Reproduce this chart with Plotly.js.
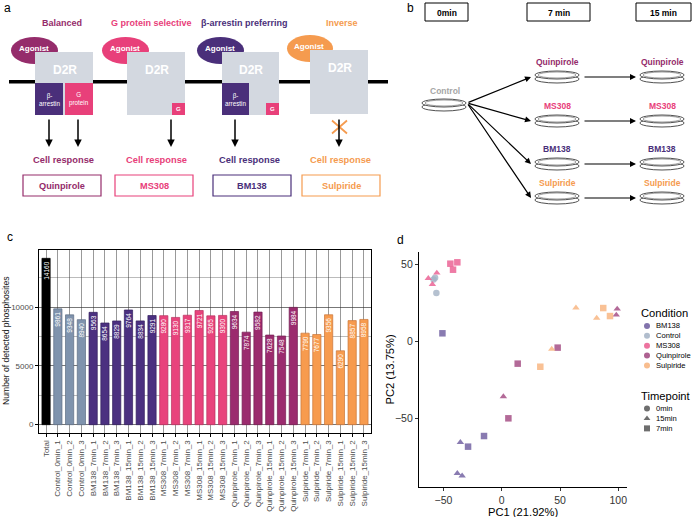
<!DOCTYPE html>
<html><head><meta charset="utf-8">
<script src="https://cdn.plot.ly/plotly-3.0.1.min.js"></script>
<style>html,body{margin:0;padding:0;background:#fff}#chart{width:698px;height:517px}</style>
</head><body><div id="chart"></div>
<script>
const FONT = 'Liberation Sans, Arial, sans-serif';

// ---------- Panel c data ----------
const sampleNames = ["Total",
  "Control_0min_1","Control_0min_2","Control_0min_3",
  "BM138_7min_1","BM138_7min_2","BM138_7min_3","BM138_15min_1","BM138_15min_2","BM138_15min_3",
  "MS308_7min_1","MS308_7min_2","MS308_7min_3","MS308_15min_1","MS308_15min_2","MS308_15min_3",
  "Quinpirole_7min_1","Quinpirole_7min_2","Quinpirole_7min_3","Quinpirole_15min_1","Quinpirole_15min_2","Quinpirole_15min_3",
  "Sulpiride_7min_1","Sulpiride_7min_2","Sulpiride_7min_3","Sulpiride_15min_1","Sulpiride_15min_2","Sulpiride_15min_3"];
const phosphositeCounts = [14160,
  9861, 9348, 8940,
  9563, 8654, 8829, 9764, 8834, 9291,
  9280, 9130, 9317, 9721, 9265, 9300,
  9634, 7874, 9582, 7628, 7548, 9984,
  7790, 7677, 9356, 6290, 8857, 8958];
const countTicks = [0, 5000, 10000];

// ---------- Panel d data ----------
const pcaCondition = ["BM138","BM138","BM138","BM138","BM138","BM138",
  "Control","Control","Control",
  "MS308","MS308","MS308","MS308","MS308","MS308",
  "Quinpirole","Quinpirole","Quinpirole","Quinpirole","Quinpirole","Quinpirole",
  "Sulpiride","Sulpiride","Sulpiride","Sulpiride","Sulpiride","Sulpiride"];
const pcaTimepoint = ["7min","7min","7min","15min","15min","15min",
  "0min","0min","0min",
  "15min","15min","15min","7min","7min","7min",
  "7min","7min","7min","15min","15min","15min",
  "7min","7min","7min","15min","15min","15min"];
const pc1 = [-50.9,-15.2,-28.9,-35.5,-38.1,-34.0,
  -57.2,-56.1,-58.5,
  -63.0,-59.5,-55.7,-44.1,-38.1,-41.8,
  13.7,5.7,48.0,1.4,99.1,98.3,
  33.1,87.1,92.9,42.9,63.7,81.5];
const pc2 = [5.0,-61.7,-68.6,-65.8,-85.9,-87.5,
  41.1,31.2,40.0,
  40.7,36.8,44.2,50.2,51.1,46.3,
  -14.7,-50.2,-4.3,-36.1,20.8,16.9,
  -16.7,21.4,16.2,-5.2,21.6,14.9];
const conditionLevels = ["BM138","Control","MS308","Quinpirole","Sulpiride"];
const timepointLevels = ["0min","15min","7min"];

// ---------- styles ----------
const barColors = {Total:'#000000', Control:'#7f93ad', BM138:'#4b3080', MS308:'#e8437c', Quinpirole:'#9b2b6e', Sulpiride:'#f79b4e'};
const barEdges  = {Total:'#000000', Control:'#5d6d82', BM138:'#34205c', MS308:'#b8305f', Quinpirole:'#741e52', Sulpiride:'#c8763a'};
const condColors = {BM138:'#6c5a9e', Control:'#a3b1c4', MS308:'#ea5a8e', Quinpirole:'#a0457e', Sulpiride:'#f7b27a'};
const timeSymbols = {"0min":'circle', "15min":'triangle-up', "7min":'square'};
const C_BAL='#952c6b', C_GPS='#e8407a', C_BAR='#4a2f7a', C_INV='#f59b4f', C_D2R='#d3d8e0';

const traces = [];

// bar chart
const groups = sampleNames.map(n => n.split('_')[0]);
traces.push({
  type:'bar', x:sampleNames, y:phosphositeCounts, xaxis:'x', yaxis:'y',
  width:0.7,
  marker:{color:groups.map(g=>barColors[g]), line:{color:groups.map(g=>barEdges[g]), width:0.7}},
  text:phosphositeCounts.map(String), textposition:'inside', insidetextanchor:'end',
  textangle:-90, constraintext:'none',
  textfont:{family:FONT, size:6.5, color:'#ffffff'},
  hoverinfo:'x+y', showlegend:false
});

// PCA scatter: one trace per condition
conditionLevels.forEach(cond => {
  const idx = pcaCondition.map((c,i)=>c===cond?i:-1).filter(i=>i>=0);
  traces.push({
    type:'scatter', mode:'markers', xaxis:'x2', yaxis:'y2',
    x:idx.map(i=>pc1[i]), y:idx.map(i=>pc2[i]),
    marker:{color:condColors[cond], size:6.5, opacity:0.8,
      symbol:idx.map(i=>timeSymbols[pcaTimepoint[i]]), line:{width:0}},
    name:cond, showlegend:false
  });
});

// ---------- drawing canvas (pixel coords on hidden axes x3/y3) ----------
const shapes = [], ann = [];
function rect(x0,y0,x1,y1,fill,lc,lw){shapes.push({type:'rect',xref:'x3',yref:'y3',x0,y0,x1,y1,fillcolor:fill,line:{color:lc||fill,width:lw===undefined?0:lw},layer:'above'});}
function ell(x0,y0,x1,y1,fill,lc,lw){shapes.push({type:'circle',xref:'x3',yref:'y3',x0,y0,x1,y1,fillcolor:fill,line:{color:lc||fill,width:lw===undefined?0:lw},layer:'above'});}
function line(x0,y0,x1,y1,c,w){shapes.push({type:'line',xref:'x3',yref:'y3',x0,y0,x1,y1,line:{color:c,width:w},layer:'above'});}
function txt(x,y,t,size,color,bold,xa,angle){ann.push({xref:'x3',yref:'y3',x,y,text:bold?'<b>'+t+'</b>':t,showarrow:false,
  font:{family:FONT,size,color},xanchor:xa||'center',yanchor:'middle',textangle:angle||0,align:xa||'center'});}
function arrow(x0,y0,x1,y1,w){ann.push({xref:'x3',yref:'y3',axref:'x3',ayref:'y3',x:x1,y:y1,ax:x0,ay:y0,text:'',showarrow:true,
  arrowhead:2,arrowsize:1,arrowwidth:w||1.3,arrowcolor:'#000'});}

// panel letters
txt(2,8,'a',12,'#000',false,'left');
txt(405,8,'b',12,'#000',false,'left');
txt(5,237,'c',12,'#000',false,'left');
txt(395,240,'d',12,'#000',false,'left');

// ---- Panel a ----
line(9,81.7,388,81.7,'#000',3.5);
const recCols=[C_BAL,C_GPS,C_BAR,C_INV];
const recTitles=['Balanced','G protein selective','β-arrestin preferring','Inverse'];
const titleX=[62,151,244,342];
const agon=[[11,58],[102,149],[197,244],[287,333]];
const boxes=[[35,93],[127,185],[222,279],[310,368]];
recCols.forEach((c,i)=>{
  txt(titleX[i],23,recTitles[i],9,c,true);
  const ay0 = i===3?35:37, ay1 = i===3?62:64;
  ell(agon[i][0],ay0,agon[i][1],ay1,c);
  const by0 = i===3?50:52, by1 = i===3?114:115;
  rect(boxes[i][0],by0,boxes[i][1],by1,C_D2R);
  txt((boxes[i][0]+boxes[i][1])/2+0.5,by0+18,'D2R',12,'#ffffff',true);
  txt((agon[i][0]+agon[i][1])/2-1,(ay0+ay1)/2-2,'Agonist',8,'#ffffff',true);
});
// signalling sub-boxes
rect(35,83,63,115,C_BAR); txt(49,99,'β-<br>arrestin',6.3,'#ffffff');
rect(65,83,93,115,C_GPS); txt(79,99,'G<br>protein',6.3,'#ffffff');
rect(172,103,185,115,C_GPS); txt(178.5,109,'G',6,'#ffffff',true);
rect(222,83,249,115,C_BAR); txt(235.5,99,'β-<br>arrestin',6.3,'#ffffff');
rect(266,103,279,115,C_GPS); txt(272.5,109,'G',6,'#ffffff',true);
// arrows
[49,78,171,235,339].forEach(x=>arrow(x,118,x,147,1.5));
line(332,120.5,347,133.5,C_INV,1.8); line(347,120.5,332,133.5,C_INV,1.8);
// cell response + drug boxes
const crX=[63,156,249,340];
const drugBoxes=[[23,101],[115,193],[213,291],[302,380]];
const drugNames=['Quinpirole','MS308','BM138','Sulpiride'];
recCols.forEach((c,i)=>{
  txt(crX[i],160,'Cell response',9.3,c,true);
  rect(drugBoxes[i][0],175,drugBoxes[i][1],196,'#ffffff',c,1.2);
  txt((drugBoxes[i][0]+drugBoxes[i][1])/2,185.5,drugNames[i],9.2,c,true);
});

// ---- Panel b ----
[[425,468,'0min'],[527,590,'7 min'],[636,691,'15 min']].forEach(b=>{
  rect(b[0],3,b[1],21,'#ffffff','#000',1);
  txt((b[0]+b[1])/2,12.5,b[2],8.5,'#000',true);
});
function dish(cx,cy){
  ell(cx-22,cy-1,cx+22,cy+7,'#ffffff','#222',0.8);
  ell(cx-22,cy-5,cx+22,cy+3,'#ffffff','#222',0.8);
  ell(cx-19,cy-4,cx+19,cy+2,'rgba(0,0,0,0)','#444',0.5);
}
txt(445,91,'Control',8.5,'#a6a6a6',true);
dish(444,104);
const rowsB=[['Quinpirole',C_BAL,76],['MS308',C_GPS,120],['BM138',C_BAR,163],['Sulpiride',C_INV,197]];
rowsB.forEach(r=>{
  arrow(467,103,531,r[2]+1,1.2);
  txt(557,r[2]-14,r[0],8.5,r[1],true);
  dish(557,r[2]);
  arrow(583,r[2]+1,636,r[2]+1,1.2);
  txt(662,r[2]-14,r[0],8.5,r[1],true);
  dish(662,r[2]);
});

// ---- Panel c extra text ----
txt(6,341,'Number of detected phosphosites',8.6,'#1a1a1a',false,'center',-90);

// ---- Panel d legend and axis titles ----
txt(523,512,'PC1 (21.92%)',11.2,'#000');
txt(389,369.5,'PC2 (13.75%)',11.2,'#000',false,'center',-90);
const LFS = 7.6, LSTEP = LFS*1.3;
txt(639,313,'Condition',11.2,'#000',false,'left');
const condMid = 345.7;
txt(654,condMid,conditionLevels.join('<br>'),LFS,'#000',false,'left');
const legYc = conditionLevels.map((c,i)=>condMid+(i-2)*LSTEP);
txt(639,396,'Timepoint',11.2,'#000',false,'left');
const timeMid = 418.5;
txt(654,timeMid,timepointLevels.join('<br>'),LFS,'#000',false,'left');
const legYt = timepointLevels.map((t,i)=>timeMid+(i-1)*LSTEP);
traces.push({type:'scatter',mode:'markers',xaxis:'x3',yaxis:'y3',
  x:conditionLevels.map(()=>647).concat(timepointLevels.map(()=>647)),
  y:legYc.concat(legYt),
  marker:{size:6,opacity:0.85,line:{width:0},
    color:conditionLevels.map(c=>condColors[c]).concat(timepointLevels.map(()=>'#555555')),
    symbol:conditionLevels.map(()=> 'circle').concat(timepointLevels.map(t=>timeSymbols[t]))},
  hoverinfo:'skip',showlegend:false});

const W=698,H=517;
const layout = {
  width:W, height:H, margin:{l:0,r:0,t:0,b:0},
  paper_bgcolor:'#ffffff', plot_bgcolor:'rgba(0,0,0,0)',
  font:{family:FONT, color:'#000'},
  showlegend:false, bargap:0,
  xaxis:{domain:[39/W,371/W], anchor:'y', type:'category', range:[-0.6,27.6],
    tickangle:-90, tickfont:{size:8,color:'#4d4d4d'}, ticks:'outside', ticklen:3, tickcolor:'#000',
    showgrid:true, gridcolor:'#333', gridwidth:0.5,
    showline:true, mirror:true, linecolor:'#000', linewidth:1, zeroline:false, fixedrange:true},
  yaxis:{domain:[1-433/H,1-250/H], anchor:'x', range:[-708,14868],
    tickvals:countTicks, ticktext:countTicks.map(String), tickfont:{size:8,color:'#4d4d4d'},
    ticks:'outside', ticklen:3, tickcolor:'#000',
    showgrid:true, gridcolor:'#333', gridwidth:0.5,
    minor:{dtick:2500, tick0:0, showgrid:true, gridcolor:'#555', gridwidth:0.4, ticks:''},
    showline:true, mirror:true, linecolor:'#000', linewidth:1, zeroline:false, fixedrange:true},
  xaxis2:{domain:[419/W,627/W], anchor:'y2', range:[-71,107.5],
    tickvals:[-50,0,50,100], tickfont:{size:10.5,color:'#333'}, ticks:'outside', ticklen:3, tickcolor:'#333',
    showgrid:false, zeroline:false, showline:true, linecolor:'#000', linewidth:1.1, fixedrange:true},
  yaxis2:{domain:[1-487/H,1-252/H], anchor:'x2', range:[-94.8,57.8],
    tickvals:[-50,0,50], tickfont:{size:10.5,color:'#333'}, ticks:'outside', ticklen:3, tickcolor:'#333',
    showgrid:false, zeroline:false, showline:true, linecolor:'#000', linewidth:1.1, fixedrange:true},
  xaxis3:{domain:[0,1], anchor:'y3', range:[0,W], visible:false, fixedrange:true},
  yaxis3:{domain:[0,1], anchor:'x3', range:[H,0], visible:false, fixedrange:true},
  shapes, annotations:ann
};
Plotly.newPlot('chart', traces, layout, {staticPlot:true, displayModeBar:false});
</script></body></html>
